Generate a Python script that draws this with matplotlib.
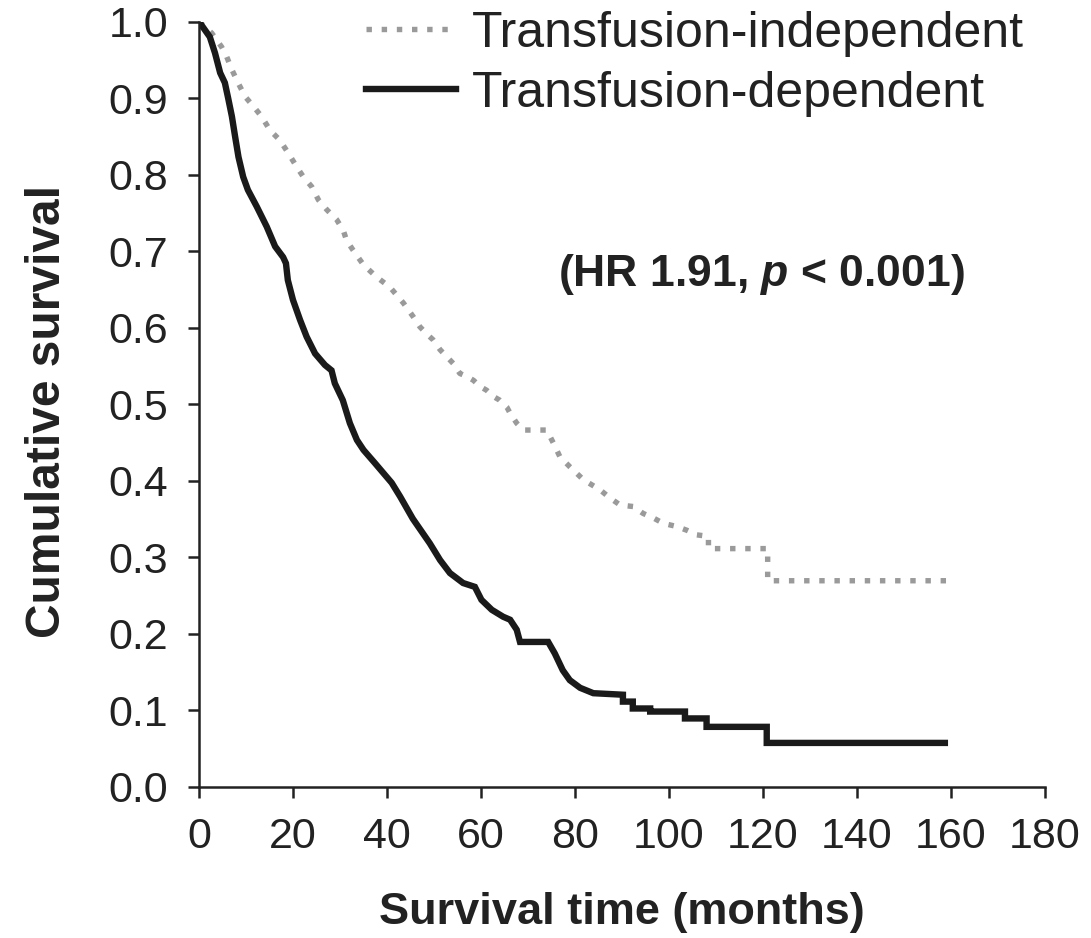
import numpy as np
import matplotlib
matplotlib.use("Agg")
import matplotlib.pyplot as plt

plt.rcParams["font.family"] = ["Liberation Sans", "DejaVu Sans"]
plt.rcParams["mathtext.fontset"] = "custom"
plt.rcParams["mathtext.it"] = "Liberation Sans:italic:bold"
plt.rcParams["mathtext.rm"] = "Liberation Sans:bold"

# Kaplan-Meier curves (months, cumulative survival)
dep_time = [0, 2.3, 3.4, 4.5, 5.5, 6.2, 7.0, 7.7, 8.4, 9.4, 10.4, 12.3, 14.4, 16.2,
            17.9, 18.5, 18.9, 20.0, 21.5, 22.9, 24.7, 26.8, 28.2, 28.9, 30.6, 32.1,
            33.6, 35.0, 37.4, 39.2, 41.0, 42.8, 45.5, 49.1, 51.3, 53.4, 56.2, 58.7,
            60.1, 62.3, 64.7, 66.2, 67.6, 68.3, 74.3, 75.7, 77.4, 78.9, 81.1, 83.9,
            90.2, 90.2, 92.3, 92.3, 96.0, 96.0, 103.4, 103.4, 108.0, 108.0, 120.8,
            120.8, 158.7]
dep_surv = [1.0, 0.98, 0.959, 0.933, 0.92, 0.90, 0.876, 0.849, 0.823, 0.797, 0.78,
            0.758, 0.732, 0.706, 0.692, 0.684, 0.662, 0.636, 0.61, 0.588, 0.566,
            0.551, 0.544, 0.527, 0.505, 0.475, 0.453, 0.44, 0.423, 0.41, 0.397,
            0.379, 0.35, 0.318, 0.296, 0.279, 0.266, 0.261, 0.244, 0.231, 0.222,
            0.218, 0.205, 0.189, 0.189, 0.174, 0.152, 0.139, 0.129, 0.122,
            0.12, 0.111, 0.111, 0.102, 0.102, 0.098, 0.098, 0.089, 0.089, 0.078,
            0.078, 0.057, 0.057]

ind_time = [0, 2.7, 4.8, 5.9, 7.0, 8.4, 9.8, 11.6, 13.3, 15.1, 17.2, 19.0, 20.8,
            22.2, 24.0, 25.4, 27.2, 29.3, 30.7, 31.4, 32.8, 35.0, 37.8, 40.6, 43.5,
            45.6, 47.0, 48.4, 49.8, 51.3, 52.7, 54.1, 55.5, 57.0, 58.4, 59.8, 61.2,
            62.6, 64.0, 65.5, 66.2, 67.6, 69.0, 74.0, 75.4, 76.8, 78.9, 81.8, 85.3,
            87.5, 89.6, 92.4, 94.5, 96.7, 98.8, 101.6, 103.8, 105.9, 108.4, 108.4,
            121.0, 121.0, 159.4]
ind_surv = [1.0, 0.985, 0.967, 0.954, 0.937, 0.919, 0.902, 0.889, 0.876, 0.858,
            0.845, 0.828, 0.81, 0.797, 0.784, 0.767, 0.754, 0.741, 0.727, 0.714,
            0.701, 0.682, 0.666, 0.653, 0.632, 0.614, 0.601, 0.592, 0.584, 0.571,
            0.562, 0.553, 0.54, 0.536, 0.531, 0.523, 0.518, 0.51, 0.505, 0.496,
            0.488, 0.475, 0.466, 0.466, 0.449, 0.431, 0.418, 0.401, 0.388, 0.377,
            0.368, 0.366, 0.357, 0.351, 0.344, 0.34, 0.335, 0.329, 0.327, 0.311,
            0.311, 0.269, 0.269]

x_ticks = list(range(0, 181, 20))
y_ticks = [round(0.1 * i, 1) for i in range(11)]

fig = plt.figure(figsize=(10.91, 9.38), dpi=100)
ax = fig.add_axes([0.1824, 0.1615, 0.7754, 0.8155])

ax.plot(ind_time, ind_surv, color="#9a9a9a", lw=3.9, linestyle=(0, (1, 1.8)),
        dash_capstyle="butt", label="Transfusion-independent")
ax.plot(dep_time, dep_surv, color="#1a1a1a", lw=4.6, solid_joinstyle="miter",
        label="Transfusion-dependent")

ax.set_xlim(0, 180)
ax.set_ylim(0, 1.0)
ax.set_xticks(x_ticks)
ax.set_yticks(y_ticks)
ax.set_yticklabels([f"{v:.1f}" for v in y_ticks])
ax.tick_params(axis="both", direction="out", length=8, width=1.8, labelsize=31,
               color="#222222", labelcolor="#222222")
ax.tick_params(axis="x", pad=14)
ax.tick_params(axis="y", pad=14)
for s in ["top", "right"]:
    ax.spines[s].set_visible(False)
for s in ["left", "bottom"]:
    ax.spines[s].set_linewidth(1.8)
    ax.spines[s].set_color("#222222")
    ax.spines[s].set_clip_on(False)

ax.set_xlabel("Survival time (months)", fontsize=32.5, fontweight="bold",
              color="#222222", labelpad=25)
ax.set_ylabel("Cumulative survival", fontsize=34.5, fontweight="bold",
              color="#222222", labelpad=28)
ax.yaxis.label.set_y(0.49)

ax.text(0.665, 0.669, r"(HR 1.91, $\mathit{p}$ < 0.001)", transform=ax.transAxes,
        fontsize=32, fontweight="bold", ha="center", va="center", color="#222222")

leg = ax.legend(loc="upper left", bbox_to_anchor=(366 / 1091, 1 - 11 / 938),
                bbox_transform=fig.transFigure, frameon=False, fontsize=36,
                handlelength=1.8, handletextpad=0.32, labelspacing=0.28,
                borderpad=0, borderaxespad=0)
for t in leg.get_texts():
    t.set_color("#222222")

fig.savefig("out.png", dpi=100)
